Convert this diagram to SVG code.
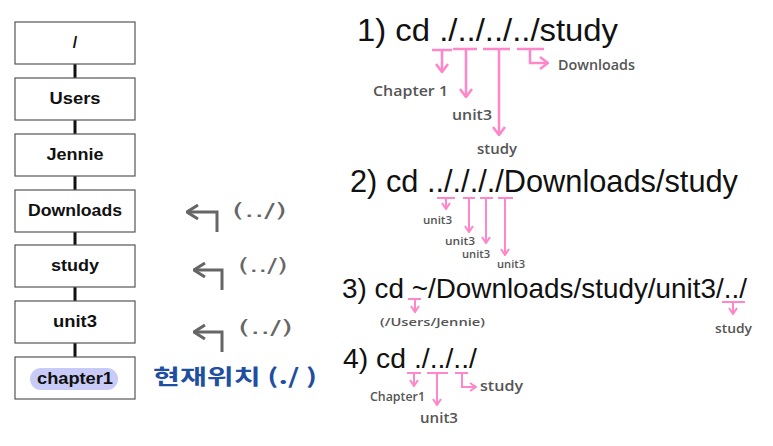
<svg xmlns="http://www.w3.org/2000/svg" width="773" height="446" viewBox="0 0 773 446">
<style>
.box{fill:#fff;stroke:#555;stroke-width:1.2}
.nt{font-family:"Liberation Sans",Arial,sans-serif;font-weight:bold;font-size:16px;fill:#111;text-anchor:middle}
.edge{stroke:#111;stroke-width:3}
.cmd{font-family:"Liberation Sans",Arial,sans-serif;fill:#111}
.pk{fill:none;stroke:#ff86c8;stroke-width:2}
.pkb{fill:none;stroke:#ff86c8;stroke-width:2.5}
.hw{font-family:"Open Sans","DejaVu Sans",sans-serif;fill:#555;font-weight:600}
.ga{fill:none;stroke:#666;stroke-width:3}
.par{font-family:"DejaVu Sans",sans-serif;fill:#666;font-size:20px}
</style>
<defs>
<marker id="pkL" viewBox="0 0 10 14" refX="9" refY="7" markerWidth="10" markerHeight="14" markerUnits="userSpaceOnUse" orient="auto"><path d="M1,1 L9,7 L1,13" fill="none" stroke="#ff86c8" stroke-width="2.5"/></marker>
<marker id="pkS" viewBox="0 0 8 10" refX="7" refY="5" markerWidth="8" markerHeight="10" markerUnits="userSpaceOnUse" orient="auto"><path d="M1,1 L7,5 L1,9" fill="none" stroke="#ff86c8" stroke-width="2"/></marker>
<marker id="gr" viewBox="0 0 13 16" refX="12" refY="8" markerWidth="13" markerHeight="16" markerUnits="userSpaceOnUse" orient="auto"><path d="M1,1 L12,8 L1,15" fill="none" stroke="#666" stroke-width="3"/></marker>
</defs>

<g id="connectors">
<line class="edge" x1="75" y1="64" x2="75" y2="78"/>
<line class="edge" x1="75" y1="120" x2="75" y2="134"/>
<line class="edge" x1="75" y1="176" x2="75" y2="190"/>
<line class="edge" x1="75" y1="232" x2="75" y2="245"/>
<line class="edge" x1="75" y1="287" x2="75" y2="301"/>
<line class="edge" x1="75" y1="343" x2="75" y2="357"/>
</g>

<g id="root"><rect class="box" x="15" y="22" width="120" height="42"/><text class="nt" x="75" y="48" font-size="14" font-weight="normal">/</text></g>
<g id="users"><rect class="box" x="15" y="78" width="120" height="42"/><text class="nt" x="75" y="104" textLength="51" lengthAdjust="spacingAndGlyphs">Users</text></g>
<g id="jennie"><rect class="box" x="15" y="134" width="120" height="42"/><text class="nt" x="75" y="160" textLength="57" lengthAdjust="spacingAndGlyphs">Jennie</text></g>
<g id="downloads"><rect class="box" x="15" y="190" width="120" height="42"/><text class="nt" x="75" y="216" textLength="94" lengthAdjust="spacingAndGlyphs">Downloads</text></g>
<g id="study"><rect class="box" x="15" y="245" width="120" height="42"/><text class="nt" x="75" y="271" textLength="48" lengthAdjust="spacingAndGlyphs">study</text></g>
<g id="unit3"><rect class="box" x="15" y="301" width="120" height="42"/><text class="nt" x="75" y="327" textLength="44" lengthAdjust="spacingAndGlyphs">unit3</text></g>
<g id="chapter1"><rect class="box" x="15" y="357" width="120" height="42"/><rect x="30" y="368" width="88" height="22" rx="11" fill="#c8cbf7"/><text class="nt" x="75" y="384" textLength="76" lengthAdjust="spacingAndGlyphs">chapter1</text></g>

<!-- middle arrows -->
<path class="ga" d="M217,232 V212 H187" marker-end="url(#gr)"/>
<path class="ga" d="M222,290 V270 H194" marker-end="url(#gr)"/>
<path class="ga" d="M222,352 V332 H194" marker-end="url(#gr)"/>
<text class="par" x="232" y="217" textLength="55" lengthAdjust="spacingAndGlyphs">(../)</text>
<text class="par" x="238" y="272" textLength="50" lengthAdjust="spacingAndGlyphs">(../)</text>
<text class="par" x="238" y="334" textLength="55" lengthAdjust="spacingAndGlyphs">(../)</text>
<text x="153" y="384" font-family="'Noto Sans CJK KR',sans-serif" font-weight="bold" font-size="21" fill="#1f4f9e" textLength="164" lengthAdjust="spacingAndGlyphs">현재위치 (./ )</text>

<!-- 1) -->
<text class="cmd" x="357" y="41" font-size="32" textLength="261" lengthAdjust="spacingAndGlyphs">1) cd ./../../../study</text>
<path class="pkb" d="M432,50 H452 M453,49 H477 M483,49 H510 M517,49 H544"/>
<path class="pkb" d="M442,50 V72" marker-end="url(#pkL)"/>
<path class="pkb" d="M466,49 V97" marker-end="url(#pkL)"/>
<path class="pkb" d="M499,49 V135" marker-end="url(#pkL)"/>
<path class="pkb" d="M530,49 V63 H548" marker-end="url(#pkL)"/>
<text class="hw" x="558" y="70" font-size="15" textLength="77" lengthAdjust="spacingAndGlyphs">Downloads</text>
<text class="hw" x="373" y="96" font-size="15" textLength="75" lengthAdjust="spacingAndGlyphs">Chapter 1</text>
<text class="hw" x="452" y="120" font-size="15" textLength="40" lengthAdjust="spacingAndGlyphs">unit3</text>
<text class="hw" x="477" y="154" font-size="15" textLength="40" lengthAdjust="spacingAndGlyphs">study</text>

<!-- 2) -->
<text class="cmd" x="350" y="192" font-size="30.5" textLength="388" lengthAdjust="spacingAndGlyphs">2) cd .././././Downloads/study</text>
<path class="pk" d="M437,198 H455 M463,198 H475 M480,198 H493 M498,198 H513"/>
<path class="pk" d="M446,198 V209" marker-end="url(#pkS)"/>
<path class="pk" d="M469,198 V232" marker-end="url(#pkS)"/>
<path class="pk" d="M486,198 V243" marker-end="url(#pkS)"/>
<path class="pk" d="M505,198 V255" marker-end="url(#pkS)"/>
<text class="hw" x="423" y="224" font-size="11" textLength="29" lengthAdjust="spacingAndGlyphs">unit3</text>
<text class="hw" x="445" y="245" font-size="11" textLength="30" lengthAdjust="spacingAndGlyphs">unit3</text>
<text class="hw" x="462" y="258" font-size="11" textLength="28" lengthAdjust="spacingAndGlyphs">unit3</text>
<text class="hw" x="497" y="268" font-size="10.5" textLength="28" lengthAdjust="spacingAndGlyphs">unit3</text>

<!-- 3) -->
<text class="cmd" x="342" y="298" font-size="28" textLength="405" lengthAdjust="spacingAndGlyphs">3) cd ~/Downloads/study/unit3/../</text>
<path class="pk" d="M408,299 H421 M722,302 H745"/>
<path class="pk" d="M415,299 V312" marker-end="url(#pkS)"/>
<path class="pk" d="M733,302 V314" marker-end="url(#pkS)"/>
<text class="hw" x="380" y="326" font-size="11" textLength="105" lengthAdjust="spacingAndGlyphs">(/Users/Jennie)</text>
<text class="hw" x="715" y="333" font-size="12" textLength="37" lengthAdjust="spacingAndGlyphs">study</text>

<!-- 4) -->
<text class="cmd" x="343" y="368" font-size="28" textLength="134" lengthAdjust="spacingAndGlyphs">4) cd ./../../</text>
<path class="pk" d="M407,373 H421 M427,373 H448 M455,373 H468"/>
<path class="pk" d="M414,373 V386" marker-end="url(#pkS)"/>
<path class="pk" d="M437,373 V405" marker-end="url(#pkS)"/>
<path class="pk" d="M462,373 V387 H476" marker-end="url(#pkS)"/>
<text class="hw" x="370" y="401" font-size="13" textLength="55" lengthAdjust="spacingAndGlyphs">Chapter1</text>
<text class="hw" x="420" y="423" font-size="15" textLength="38" lengthAdjust="spacingAndGlyphs">unit3</text>
<text class="hw" x="480" y="391" font-size="15" textLength="43" lengthAdjust="spacingAndGlyphs">study</text>
</svg>
